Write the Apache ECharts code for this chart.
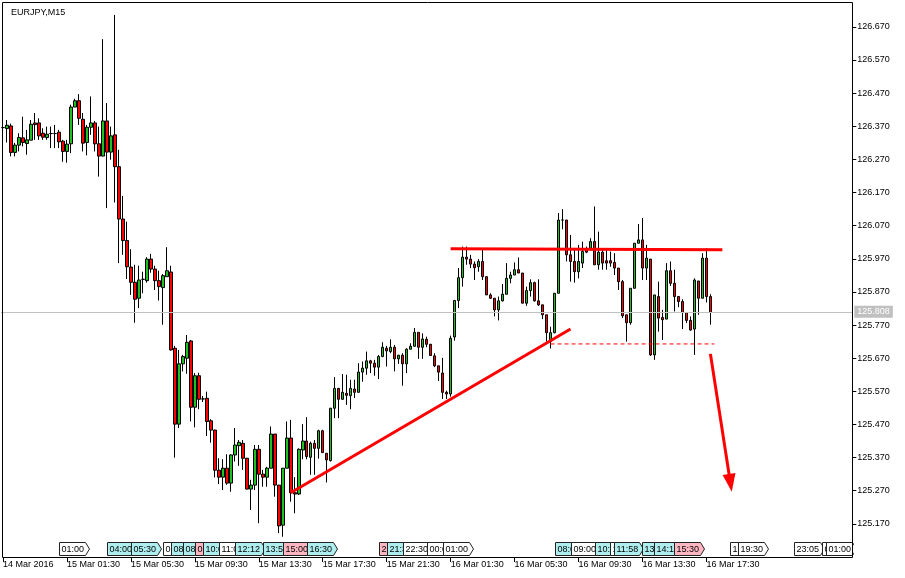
<!DOCTYPE html>
<html><head><meta charset="utf-8">
<script src="https://cdn.jsdelivr.net/npm/echarts@6/dist/echarts.min.js"></script>
<style>html,body{margin:0;padding:0;background:#fff}#c{width:905px;height:578px}</style>
</head><body><div id="c"></div>
<script>
// ---------------- data ----------------
const symbolTitle = 'EURJPY,M15';
const bidPrice = 125.808;
const yMin = 125.070, yMax = 126.745;
const yTicks = [125.17,125.27,125.37,125.47,125.57,125.67,125.77,125.87,125.97,126.07,126.17,126.27,126.37,126.47,126.57,126.67];
const tickLabels = ['14 Mar 2016','15 Mar 01:30','15 Mar 05:30','15 Mar 09:30','15 Mar 13:30','15 Mar 17:30','15 Mar 21:30','16 Mar 01:30','16 Mar 05:30','16 Mar 09:30','16 Mar 13:30','16 Mar 17:30'];

const open = [126.366,126.363,126.371,126.291,126.313,126.335,126.318,126.328,126.380,126.380,126.349,126.336,126.348,126.348,126.352,126.325,126.294,126.317,126.428,126.447,
126.391,126.321,126.367,126.380,126.317,126.280,126.386,126.292,126.344,126.248,126.090,126.025,125.945,125.899,125.851,125.908,125.904,125.969,125.939,125.904,
125.883,125.916,125.930,125.700,125.471,125.653,125.670,125.722,125.522,125.617,125.547,125.549,125.481,125.453,125.332,125.311,125.338,125.293,125.378,125.406,
125.413,125.368,125.275,125.287,125.395,125.320,125.311,125.338,125.441,125.287,125.166,125.338,125.429,125.264,125.260,125.393,125.420,125.371,125.413,125.398,
125.451,125.383,125.361,125.519,125.579,125.546,125.564,125.557,125.577,125.567,125.628,125.640,125.662,125.655,125.643,125.675,125.700,125.690,125.703,125.668,
125.679,125.653,125.697,125.706,125.748,125.703,125.727,125.712,125.677,125.647,125.625,125.567,125.562,125.734,125.844,125.913,125.975,125.969,125.954,125.946,
125.962,125.916,125.861,125.851,125.816,125.843,125.863,125.911,125.921,125.937,125.927,125.836,125.874,125.898,125.843,125.831,125.801,125.720,125.747,125.866,
126.087,126.087,125.982,125.962,125.931,125.957,125.997,125.997,126.022,125.952,125.990,125.964,125.964,125.959,125.942,125.901,125.801,125.777,125.881,126.017,
126.027,125.942,125.969,125.680,125.856,125.793,125.788,125.934,125.896,125.856,125.841,125.808,125.784,125.758,125.903,125.851,125.972,125.856];
const high = [126.375,126.389,126.378,126.320,126.349,126.399,126.359,126.389,126.410,126.394,126.364,126.369,126.369,126.374,126.359,126.329,126.329,126.435,126.453,126.467,
126.410,126.374,126.460,126.386,126.369,126.633,126.440,126.369,126.706,126.299,126.160,126.082,125.999,125.952,125.949,125.931,125.975,125.985,125.949,125.934,
125.924,126.005,125.949,125.707,125.695,125.680,125.740,125.725,125.625,125.626,125.556,125.569,125.486,125.454,125.368,125.365,125.380,125.380,125.459,125.423,
125.423,125.369,125.303,125.408,125.408,125.333,125.342,125.464,125.441,125.287,125.338,125.479,125.484,125.311,125.398,125.471,125.492,125.418,125.423,125.454,
125.454,125.384,125.520,125.613,125.580,125.622,125.620,125.605,125.605,125.655,125.660,125.690,125.665,125.665,125.680,125.718,125.707,125.727,125.710,125.680,
125.685,125.700,125.715,125.761,125.748,125.745,125.735,125.713,125.685,125.647,125.671,125.572,125.738,125.846,125.942,126.007,126.007,125.982,125.962,125.969,
125.997,125.916,125.866,125.851,125.856,125.894,125.957,125.931,125.959,125.974,125.927,125.886,125.908,125.901,125.908,125.831,125.801,125.765,125.866,126.108,
126.120,126.087,126.042,125.997,126.012,126.022,126.007,126.032,126.128,126.052,125.997,125.997,125.992,125.987,125.942,125.906,125.801,125.881,126.017,126.075,
126.093,126.012,125.969,125.861,125.901,125.816,125.957,125.962,125.937,125.858,125.848,125.808,125.796,125.911,125.903,125.987,126.002,125.863];
const low = [126.360,126.321,126.279,126.279,126.294,126.309,126.284,126.328,126.329,126.329,126.329,126.329,126.304,126.304,126.304,126.263,126.260,126.289,126.428,126.374,
126.294,126.282,126.344,126.294,126.218,126.279,126.123,126.269,126.140,125.957,125.982,125.909,125.861,125.777,125.821,125.866,125.898,125.928,125.876,125.844,
125.771,125.916,125.693,125.370,125.459,125.630,125.623,125.479,125.461,125.516,125.538,125.435,125.415,125.310,125.290,125.272,125.288,125.267,125.358,125.345,
125.333,125.274,125.212,125.272,125.172,125.282,125.282,125.338,125.252,125.142,125.131,125.338,125.237,125.202,125.257,125.365,125.365,125.318,125.318,125.367,
125.385,125.295,125.358,125.489,125.489,125.544,125.529,125.516,125.550,125.567,125.599,125.620,125.625,125.617,125.607,125.673,125.645,125.685,125.630,125.653,
125.587,125.625,125.697,125.705,125.668,125.668,125.703,125.677,125.643,125.601,125.547,125.547,125.554,125.723,125.821,125.886,125.952,125.942,125.906,125.931,
125.906,125.861,125.849,125.796,125.784,125.841,125.863,125.896,125.921,125.927,125.836,125.828,125.856,125.841,125.828,125.788,125.720,125.699,125.745,125.866,
126.059,125.962,125.901,125.898,125.911,125.942,125.987,125.997,125.952,125.937,125.937,125.937,125.946,125.921,125.876,125.791,125.720,125.771,125.881,126.017,
125.906,125.906,125.677,125.665,125.750,125.725,125.788,125.888,125.811,125.824,125.758,125.776,125.753,125.680,125.801,125.851,125.838,125.771];
const close = [126.366,126.373,126.291,126.313,126.336,126.321,126.329,126.376,126.375,126.341,126.337,126.346,126.348,126.348,126.323,126.294,126.316,126.428,126.447,126.394,
126.319,126.367,126.380,126.317,126.280,126.386,126.292,126.341,126.248,126.090,126.025,125.946,125.899,125.848,125.906,125.908,125.969,125.939,125.904,125.886,
125.919,125.934,125.695,125.471,125.653,125.675,125.718,125.522,125.617,125.546,125.547,125.479,125.453,125.332,125.311,125.338,125.293,125.378,125.408,125.416,
125.368,125.275,125.287,125.395,125.320,125.311,125.338,125.441,125.287,125.164,125.338,125.429,125.264,125.260,125.395,125.420,125.373,125.413,125.398,125.451,
125.385,125.363,125.519,125.579,125.546,125.567,125.558,125.579,125.567,125.628,125.640,125.662,125.655,125.643,125.675,125.703,125.692,125.703,125.668,125.679,
125.653,125.697,125.706,125.748,125.703,125.728,125.712,125.678,125.647,125.628,125.567,125.562,125.730,125.844,125.913,125.975,125.969,125.954,125.943,125.962,
125.916,125.861,125.851,125.816,125.843,125.863,125.911,125.921,125.937,125.927,125.836,125.874,125.898,125.843,125.831,125.801,125.747,125.747,125.866,126.087,
126.087,125.982,125.962,125.931,125.962,125.992,125.990,126.022,125.952,125.990,125.957,125.957,125.957,125.942,125.901,125.798,125.777,125.881,126.017,126.027,
125.942,125.972,125.680,125.861,125.791,125.786,125.934,125.896,125.856,125.841,125.808,125.784,125.755,125.906,125.851,125.972,125.856,125.808];

// annotation lines: [bar index, price]
const resistanceLine = [[112, 126.000], [180, 125.997]];
const trendLine = [[72, 125.264], [142, 125.758]];
const supportDash = [[137, 125.713], [178, 125.713]];
const arrowLine = [[177, 125.683], [182, 125.294]];

// calendar events: [bar time, text, kind]  w=white c=cyan p=pink
const events = [
 ['15 Mar 01:00','01:00','w'],['15 Mar 04:00','04:00','c'],['15 Mar 05:30','05:30','c'],
 ['15 Mar 07:30','07:30','w'],['15 Mar 08:00','08:00','c'],['15 Mar 08:45','08:45','c'],
 ['15 Mar 09:30','09:30','p'],['15 Mar 10:00','10:00','c'],['15 Mar 11:00','11:00','w'],
 ['15 Mar 12:00','12:12','c'],['15 Mar 13:45','13:55','c'],['15 Mar 15:00','15:00','p'],
 ['15 Mar 16:30','16:30','c'],['15 Mar 21:00','21:00','p'],['15 Mar 21:30','21:30','c'],
 ['15 Mar 22:30','22:30','w'],['16 Mar 00:00','00:00','w'],['16 Mar 01:00','01:00','w'],
 ['16 Mar 08:00','08:00','c'],['16 Mar 09:00','09:00','w'],['16 Mar 10:30','10:30','c'],
 ['16 Mar 11:30','11:30','w'],['16 Mar 11:45','11:58','c'],['16 Mar 13:30','13:30','c'],
 ['16 Mar 14:15','14:15','c'],['16 Mar 15:30','15:30','p'],['16 Mar 19:00','19:00','w'],
 ['16 Mar 19:30','19:30','w'],['16 Mar 23:00','23:05','w'],['17 Mar 00:45','00:50','w'],
 ['17 Mar 01:00','01:00','w']
];

// time categories (M15 bars)
const barCount = 213;
const months = ['Jan','Feb','Mar','Apr','May','Jun','Jul','Aug','Sep','Oct','Nov','Dec'];
const startMs = Date.UTC(2016, 2, 14, 21, 30);
const pad = n => (n < 10 ? '0' : '') + n;
const categories = [];
for (let i = 0; i < barCount; i++) {
  const d = new Date(startMs + i * 900000);
  categories.push(d.getUTCDate() + ' ' + months[d.getUTCMonth()] + ' ' + pad(d.getUTCHours()) + ':' + pad(d.getUTCMinutes()));
}

// ---------------- chart ----------------
const FONT = '"Liberation Sans", Arial, sans-serif';
const measureCtx = document.createElement('canvas').getContext('2d');
measureCtx.font = '9px ' + FONT;
const textW = s => measureCtx.measureText(s).width;
const showTick = idx => idx % 16 === 0 && idx / 16 < tickLabels.length;

const chart = echarts.init(document.getElementById('c'), null, {renderer: 'canvas'});
chart.setOption({
  animation: false,
  backgroundColor: '#fff',
  title: {text: symbolTitle, left: 6, top: 3, textStyle: {fontSize: 9, fontWeight: 'normal', color: '#000', fontFamily: FONT}},
  grid: {left: 0.3, top: 2, width: 852, bottom: 21, show: false},
  xAxis: {
    type: 'category', data: categories, boundaryGap: true,
    axisLine: {show: false},
    axisTick: {show: true, alignWithLabel: true, interval: showTick, length: 5, lineStyle: {color: '#000'}},
    axisLabel: {interval: showTick, formatter: (v, i) => (showTick(i) ? tickLabels[i / 16] : ''), align: 'left', margin: 3,
      fontSize: 9, color: '#000', fontFamily: FONT},
    splitLine: {show: false}
  },
  yAxis: {
    type: 'value', position: 'right', min: yMin, max: yMax, interval: 0.1, scale: true,
    axisLine: {show: false},
    axisTick: {show: true, length: 4, customValues: yTicks, lineStyle: {color: '#000'}},
    axisLabel: {customValues: yTicks, margin: 5, fontSize: 9, color: '#000', fontFamily: FONT,
      formatter: v => v.toFixed(3)},
    splitLine: {show: false}
  },
  graphic: [{type: 'rect', silent: true, z: 100, shape: {x: 2.5, y: 2.5, width: 850, height: 555}, style: {fill: 'none', stroke: '#000', lineWidth: 1}}],
  series: [
    {type: 'line', data: [], z: 1, silent: true,
      markLine: {silent: true, symbol: ['none', 'none'], animation: false,
        lineStyle: {color: '#c0c0c0', width: 1, type: 'solid'},
        label: {show: true, position: 'end', distance: 2, formatter: bidPrice.toFixed(3), backgroundColor: '#c0c0c0', color: '#fff',
          padding: [2, 3, 1, 3], fontSize: 9, fontFamily: FONT},
        emphasis: {disabled: true},
        data: [{yAxis: bidPrice}]}},
    {type: 'candlestick', z: 2, barWidth: 3, silent: true,
      data: open.map((o, i) => [o, close[i], low[i], high[i]]),
      itemStyle: {color: '#20c020', color0: '#ff0000', borderColor: '#000', borderColor0: '#000', borderColorDoji: '#000', borderWidth: 1}},
    {type: 'line', z: 4, silent: true, symbol: 'none', data: resistanceLine, lineStyle: {color: '#ff0000', width: 3}},
    {type: 'line', z: 4, silent: true, symbol: 'none', data: trendLine, lineStyle: {color: '#ff0000', width: 3}},
    {type: 'line', z: 4, silent: true, symbol: 'none', data: supportDash, lineStyle: {color: '#ff0000', width: 1, type: [4, 3]}},
    {type: 'line', data: [], z: 4, silent: true,
      markLine: {silent: true, symbol: ['none', 'triangle'], symbolSize: [13, 18], animation: false,
        lineStyle: {color: '#ff0000', width: 3, type: 'solid'}, label: {show: false}, emphasis: {disabled: true},
        data: [[{coord: arrowLine[0]}, {coord: arrowLine[1]}]]}},
    {type: 'custom', z: 5, silent: true, clip: true,
      data: events.map(e => [categories.indexOf(e[0]), yMin]),
      renderItem: function (params, api) {
        const ev = events[params.dataIndex];
        const pt = api.coord([api.value(0), api.value(1)]);
        const x0 = Math.round(pt[0]) + 0.5;
        const yb = Math.round(pt[1]) - 1.5;
        const h = 13;
        const w = Math.ceil(textW(ev[1])) + 3;
        const fill = ev[2] === 'c' ? '#aeeeee' : (ev[2] === 'p' ? '#ffb6c1' : '#ffffff');
        return {type: 'group', children: [
          {type: 'polygon', shape: {points: [[x0, yb - h], [x0 + w, yb - h], [x0 + w + 4, yb - h / 2], [x0 + w, yb], [x0, yb]]},
            style: {fill: fill, stroke: '#222', lineWidth: 1}},
          {type: 'text', x: x0 + 2, y: yb - h / 2 + 0.5,
            style: {text: ev[1], fill: '#000', font: '9px ' + FONT, align: 'left', verticalAlign: 'middle'}}
        ]};
      }}
  ]
});
</script>
</body></html>
